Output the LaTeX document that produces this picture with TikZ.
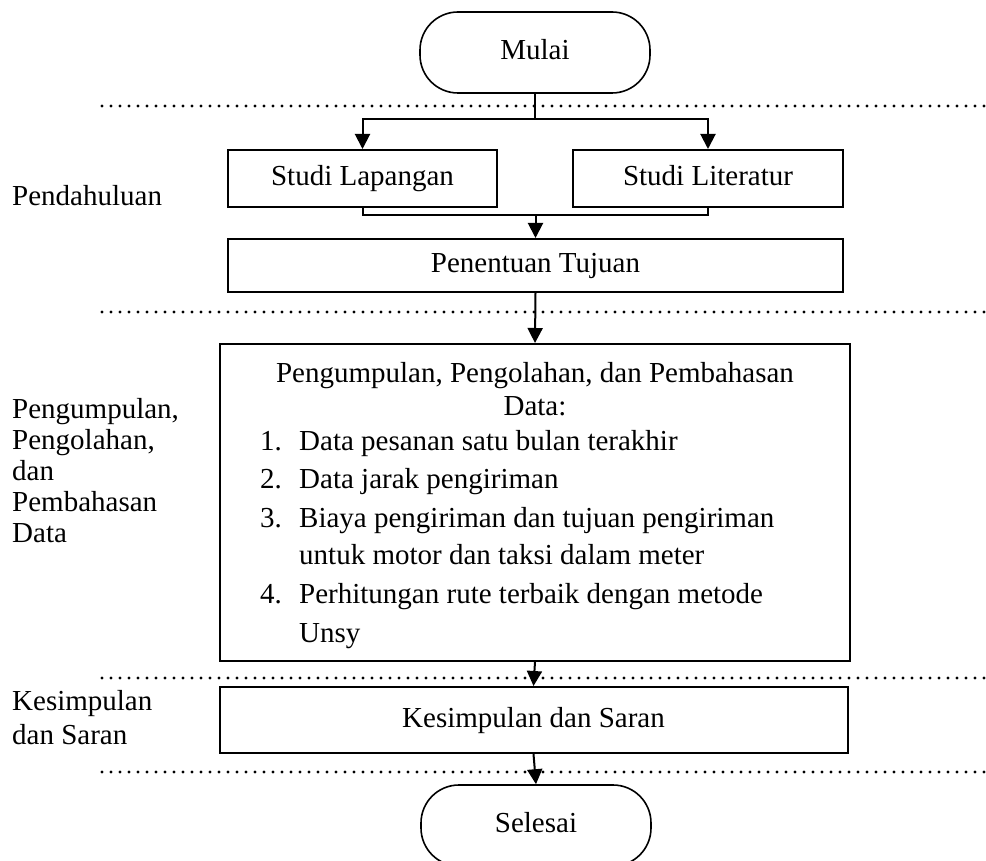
\documentclass[tikz,border=0pt]{standalone}
\usepackage{fontspec}
\setmainfont{Liberation Serif}
\usetikzlibrary{arrows.meta}
\begin{document}
\begin{tikzpicture}[x=1pt,y=-1pt,
  every node/.style={font=\fontsize{29}{33}\selectfont, inner sep=0pt},
  box/.style={draw, line width=2pt, rectangle, text height=20pt, text depth=6pt},
  term/.style={draw, line width=1.6pt, rounded corners=38pt, text height=20pt, text depth=6pt},
  conn/.style={line width=2pt},
  arr/.style={conn, -{Triangle[width=15pt,length=15pt]}},
  sep/.style={line width=3.3pt, dash pattern=on 0pt off 9pt, line cap=round},
  lbl/.style={anchor=base west}]
\path[use as bounding box, clip] (0,0) rectangle (986,861);
% separators
\draw[sep] (102,106) -- (986,106);
\draw[sep] (102,312) -- (986,312);
\draw[sep] (102,678) -- (986,678);
\draw[sep] (102,772) -- (986,772);
% nodes
\node[term, minimum width=230pt, minimum height=81pt] (mulai) at (535,52.5) {Mulai};
\node[box, minimum width=269pt, minimum height=57pt] (lap) at (362.5,178.5) {Studi Lapangan};
\node[box, minimum width=270pt, minimum height=57pt] (lit) at (708,178.5) {Studi Literatur};
\node[box, minimum width=615pt, minimum height=53pt] (tuj) at (535.5,265.5) {Penentuan Tujuan};
\node[box, minimum width=630pt, minimum height=317pt] (big) at (535,502.5) {};
\node[box, minimum width=628pt, minimum height=66pt] (kes) at (533.5,720) {Kesimpulan dan Saran};
\node[term, minimum width=230pt, minimum height=81pt] (sel) at (536,825.5) {Selesai};
% big box text
\node[anchor=base] (bt1) at (535,382) {Pengumpulan, Pengolahan, dan Pembahasan};
\node[anchor=base] (bt2) at (535,415) {Data:};
\node[lbl] (n1) at (260,450) {1.};
\node[lbl] (i1) at (299,450) {Data pesanan satu bulan terakhir};
\node[lbl] (n2) at (260,488) {2.};
\node[lbl] (i2) at (299,488) {Data jarak pengiriman};
\node[lbl] (n3) at (260,527) {3.};
\node[lbl] (i3a) at (299,527) {Biaya pengiriman dan tujuan pengiriman};
\node[lbl] (i3b) at (299,564) {untuk motor dan taksi dalam meter};
\node[lbl] (n4) at (260,603) {4.};
\node[lbl] (i4a) at (299,603) {Perhitungan rute terbaik dengan metode};
\node[lbl] (i4b) at (299,642) {Unsy};
% left labels
\node[lbl] (p1) at (12,206) {Pendahuluan};
\node[lbl] (p2a) at (12,418) {Pengumpulan,};
\node[lbl] (p2b) at (12,449) {Pengolahan,};
\node[lbl] (p2c) at (12,480) {dan};
\node[lbl] (p2d) at (12,511) {Pembahasan};
\node[lbl] (p2e) at (12,542) {Data};
\node[lbl] (p3a) at (12,710) {Kesimpulan};
\node[lbl] (p3b) at (12,744) {dan Saran};
% connectors
\coordinate (split) at (mulai.south |- 0,119);
\coordinate (merge) at (tuj.north |- 0,215);
\draw[conn] (mulai.south) -- (split);
\draw[arr] (split) -| (lap.north);
\draw[arr] (split) -| (lit.north);
\draw[conn] (lap.south) |- (merge);
\draw[conn] (lit.south) |- (merge);
\draw[arr] (merge) -- (tuj.north);
\draw[arr] (tuj.south) -- (big.north);
\draw[arr] (big.south) -- (kes.north);
\draw[arr] (kes.south) -- (sel.north);
\end{tikzpicture}
\end{document}
